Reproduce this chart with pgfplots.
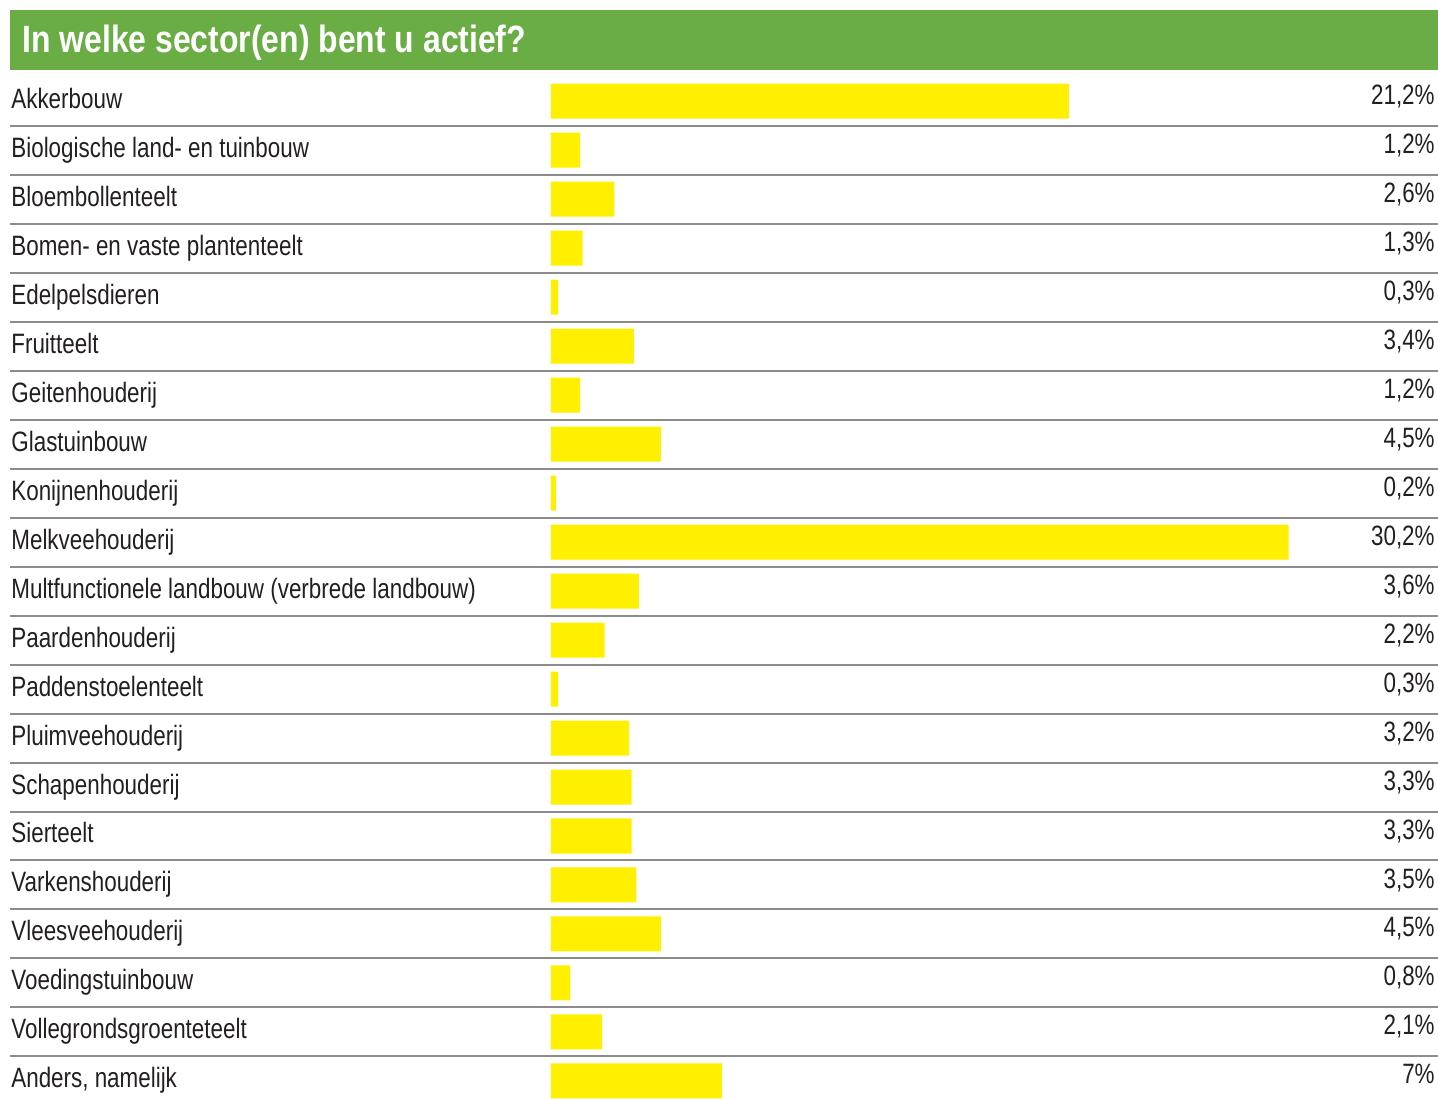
\documentclass[border=0pt]{standalone}
\usepackage{pgfplots}
\pgfplotsset{compat=1.18}
\usepackage{pgfplotstable}
\usepackage{fontspec}
\setmainfont{Liberation Sans}[FakeStretch=0.8]
\newfontfamily\titlefont{Liberation Sans}[FakeStretch=0.84]

\definecolor{titlegreen}{HTML}{6AAD45}
\definecolor{baryellow}{HTML}{FFF000}
\definecolor{rulegray}{HTML}{8C8C8C}
\definecolor{txt}{HTML}{231F20}

% sector shares in percent
\pgfplotstableread[col sep=semicolon]{
idx;val;name
0;21.2;Akkerbouw
1;1.2;Biologische land- en tuinbouw
2;2.6;Bloembollenteelt
3;1.3;Bomen- en vaste plantenteelt
4;0.3;Edelpelsdieren
5;3.4;Fruitteelt
6;1.2;Geitenhouderij
7;4.5;Glastuinbouw
8;0.2;Konijnenhouderij
9;30.2;Melkveehouderij
10;3.6;Multfunctionele landbouw (verbrede landbouw)
11;2.2;Paardenhouderij
12;0.3;Paddenstoelenteelt
13;3.2;Pluimveehouderij
14;3.3;Schapenhouderij
15;3.3;Sierteelt
16;3.5;Varkenshouderij
17;4.5;Vleesveehouderij
18;0.8;Voedingstuinbouw
19;2.1;Vollegrondsgroenteteelt
20;7;Anders, namelijk
}\datatable

\pgfplotsset{
  rows/.style={
    scale only axis,
    width=714pt, height=515pt,
    xmin=-22.14, xmax=36.31,
    ymin=-0.633, ymax=20.388,
    y dir=reverse,
    axis line style={draw=none},
    xtick=\empty,
    ytick={0,...,20},
    major tick length=0pt, minor tick length=0pt,
    ticklabel style={font=\fontsize{14}{16}\selectfont, text=txt},
  }
}

\begin{document}
\begin{tikzpicture}
\begin{axis}[
    rows,
    name=main,
    xbar, bar width=17.5pt,
    yticklabels from table={\datatable}{name},
    yticklabel style={anchor=base west, inner sep=0pt, xshift=0.5pt, yshift=-3.5pt},
    minor ytick={0.5,1.5,...,19.5},
    yminorgrids=true,
    minor grid style={draw=rulegray, line width=1pt},
]
\addplot[fill=baryellow, draw=none] table[x=val, y=idx] {\datatable};
\end{axis}

\begin{axis}[
    rows,
    at={(main.south west)}, anchor=south west,
    yticklabel pos=right,
    yticklabel={\pgfplotstablegetelem{\ticknum}{val}\of\datatable
      \pgfmathprintnumber[fixed, precision=1, use comma, assume math mode=true]{\pgfplotsretval}\%},
    yticklabel style={anchor=base east, inner sep=0pt, xshift=-1.5pt, yshift=-1.5pt},
]
\addplot[draw=none] coordinates {(0,0)};
\end{axis}

\fill[titlegreen] (main.north west) rectangle ([yshift=30pt]main.north east);
\node[anchor=base west, inner sep=0pt, text=white,
      font=\titlefont\fontsize{19}{22}\bfseries\selectfont]
  at ([xshift=6pt, yshift=8.5pt]main.north west) {In welke sector(en) bent u actief?};

\pgfresetboundingbox
\path ([xshift=-5pt]main.south west) rectangle ([yshift=35pt]main.north east);
\end{tikzpicture}
\end{document}
